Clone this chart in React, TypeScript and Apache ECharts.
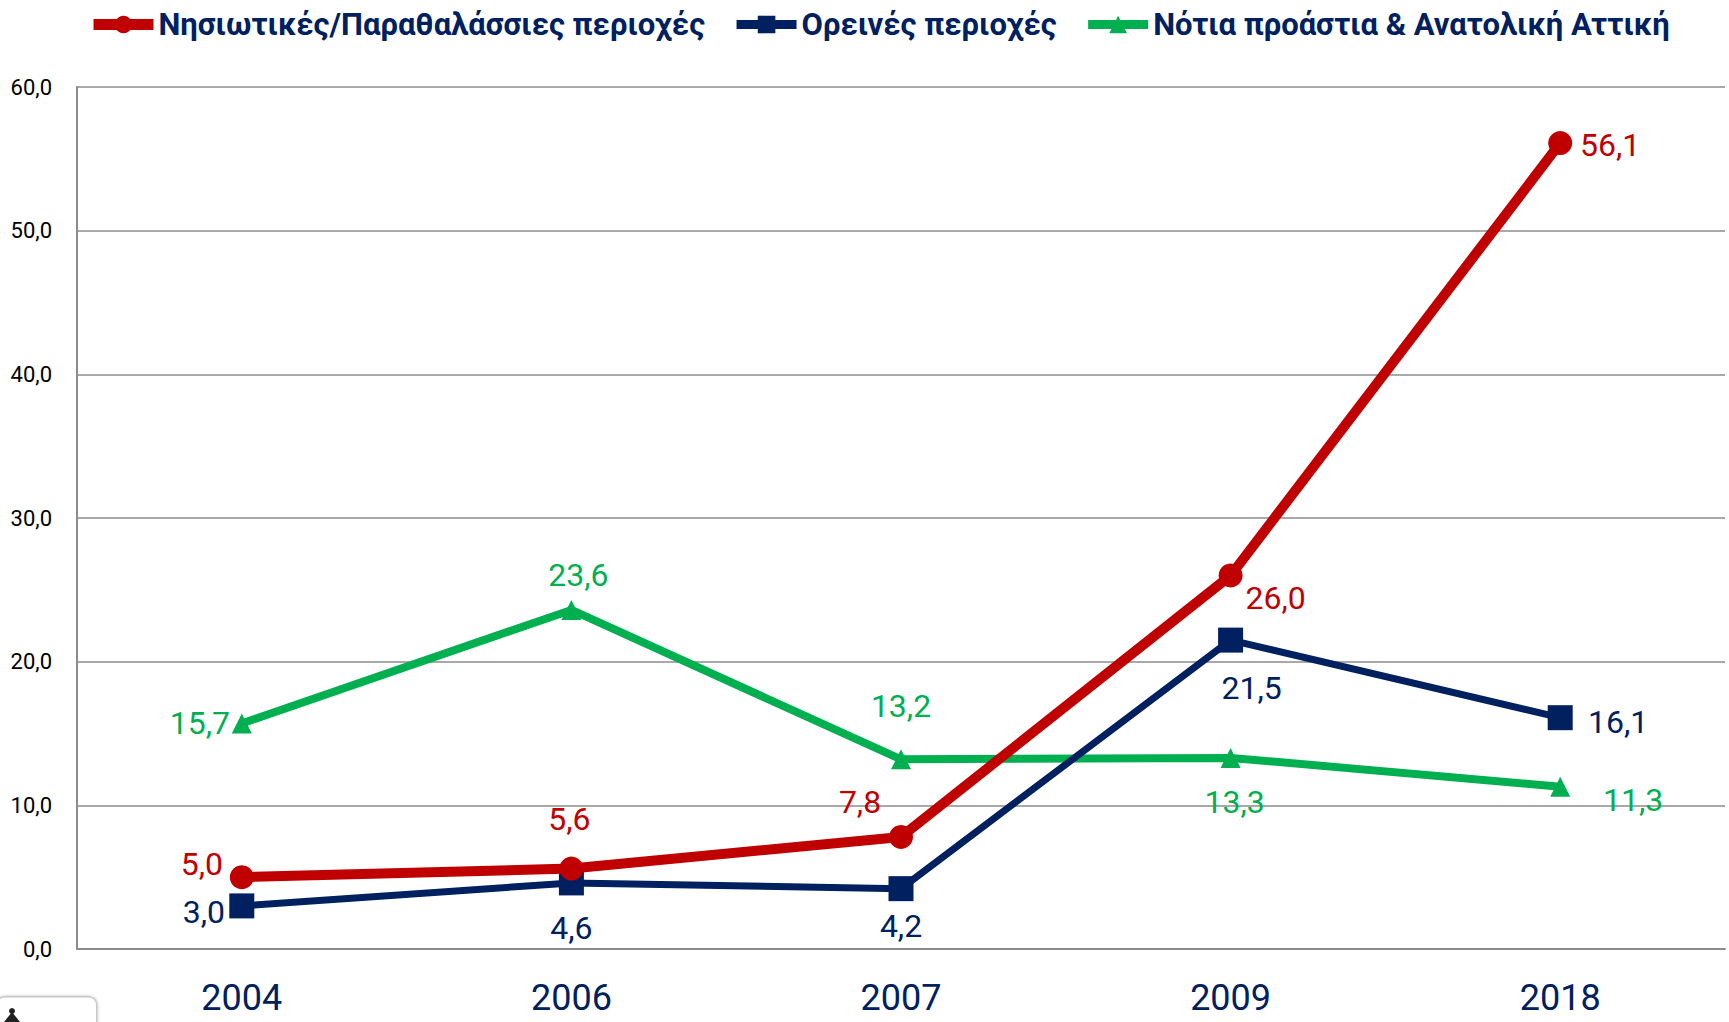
import React, { useEffect, useRef } from "react";
import * as echarts from "echarts";

const years = ["2004", "2006", "2007", "2009", "2018"];
const islandValues = [5.0, 5.6, 7.8, 26.0, 56.1];
const mountainValues = [3.0, 4.6, 4.2, 21.5, 16.1];
const southValues = [15.7, 23.6, 13.2, 13.3, 11.3];
const seriesNames = [
  "Νησιωτικές/Παραθαλάσσιες περιοχές",
  "Ορεινές περιοχές",
  "Νότια προάστια & Ανατολική Αττική",
];

// label offsets (pixels, relative to point centre)
const islandOffsets = [[-40, -13], [-2, -50], [-41, -35], [45, 23], [50, 2]];
const mountainOffsets = [[-38, 6], [0, 45], [0, 37], [21, 48], [58, 4]];
const southOffsets = [[-42, 0], [7, -35], [0, -53], [4, 44], [73, 13]];

const FONT = "Roboto, 'Liberation Sans', sans-serif";
const RED = "#C00000";
const NAVY = "#002060";
const GREEN = "#00B050";

const fmt = (v: number) => v.toFixed(1).replace(".", ",");

function buildData(values: number[], offsets: number[][], color: string) {
  return values.map((v, i) => ({
    value: v,
    label: {
      show: true,
      position: "inside",
      offset: offsets[i],
      align: "center",
      verticalAlign: "middle",
      color,
      fontSize: 32,
      fontFamily: FONT,
      formatter: (p: any) => fmt(p.value),
    },
  }));
}

export default function App() {
  const ref = useRef<HTMLDivElement>(null);
  useEffect(() => {
    document.body.style.margin = "0";
    const chart = echarts.init(ref.current!, null, { renderer: "svg" });
    chart.setOption({
      animation: false,
      backgroundColor: "#ffffff",
      legend: {
        top: 9,
        left: 88,
        padding: 0,
        width: 1640,
        itemWidth: 60,
        itemHeight: 22,
        itemGap: 27,
        textStyle: {
          color: NAVY,
          fontSize: 31,
          fontWeight: "bold",
          fontFamily: FONT,
        },
        data: [
          { name: seriesNames[0], lineStyle: { width: 11 } },
          { name: seriesNames[1], lineStyle: { width: 9 } },
          { name: seriesNames[2], lineStyle: { width: 9 } },
        ],
      },
      grid: { left: 77, right: 4, top: 87, bottom: 73, containLabel: false },
      xAxis: {
        type: "category",
        data: years,
        boundaryGap: true,
        axisLine: { lineStyle: { color: "#8c8c8c", width: 2 } },
        axisTick: { show: false },
        axisLabel: {
          color: NAVY,
          fontSize: 36,
          fontFamily: FONT,
          margin: 31,
        },
      },
      yAxis: {
        type: "value",
        min: 0,
        max: 60,
        interval: 10,
        axisLine: { show: true, lineStyle: { color: "#8c8c8c", width: 2 } },
        axisTick: { show: false },
        splitLine: { lineStyle: { color: "#8c8c8c", width: 1.5 } },
        axisLabel: {
          color: "#000000",
          fontSize: 22,
          fontFamily: FONT,
          margin: 25,
          formatter: (v: number) => fmt(v),
        },
      },
      series: [
        {
          name: seriesNames[0],
          type: "line",
          data: buildData(islandValues, islandOffsets, RED),
          symbol: "circle",
          symbolSize: 24,
          lineStyle: { color: RED, width: 10 },
          itemStyle: { color: RED },
          z: 4,
        },
        {
          name: seriesNames[1],
          type: "line",
          data: buildData(mountainValues, mountainOffsets, NAVY),
          symbol: "rect",
          symbolSize: 25,
          lineStyle: { color: NAVY, width: 7 },
          itemStyle: { color: NAVY },
          z: 3,
        },
        {
          name: seriesNames[2],
          type: "line",
          data: buildData(southValues, southOffsets, GREEN),
          symbol: "triangle",
          symbolSize: 20,
          lineStyle: { color: GREEN, width: 8 },
          itemStyle: { color: GREEN },
          z: 2,
        },
      ],
      graphic: [
        {
          type: "rect",
          left: -4,
          top: 996,
          shape: { width: 100, height: 40, r: 8 },
          style: { fill: "#ffffff", stroke: "#c8c8c8", lineWidth: 1.5, shadowBlur: 3, shadowColor: "rgba(0,0,0,0.25)" },
          z: 10,
        },
        {
          type: "polygon",
          shape: { points: [[4, 1022], [12, 1012], [20, 1022]] },
          style: { fill: "#222" },
          z: 11,
        },
        {
          type: "circle",
          shape: { cx: 12, cy: 1011, r: 3 },
          style: { fill: "#222" },
          z: 11,
        },
      ],
    });
    return () => chart.dispose();
  }, []);
  return (
    <div
      ref={ref}
      style={{ position: "absolute", left: 0, top: 0, width: 1729, height: 1022 }}
    />
  );
}
